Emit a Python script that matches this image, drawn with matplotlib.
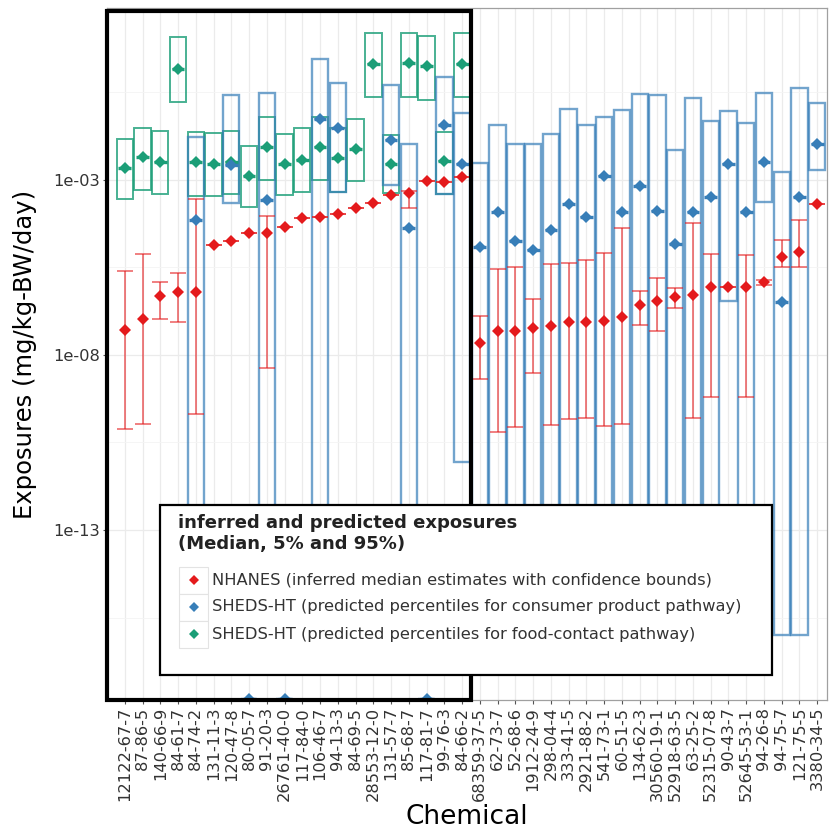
import numpy as np
import matplotlib
matplotlib.use("Agg")
import matplotlib.pyplot as plt
from matplotlib.patches import Rectangle
from matplotlib.lines import Line2D
import matplotlib.transforms as mtransforms

plt.rcParams['font.family'] = ['DejaVu Sans']

chemicals = ["12122-67-7", "87-86-5", "140-66-9", "84-61-7", "84-74-2", "131-11-3",
             "120-47-8", "80-05-7", "91-20-3", "26761-40-0", "117-84-0", "106-46-7",
             "94-13-3", "84-69-5", "28553-12-0", "131-57-7", "85-68-7", "117-81-7",
             "99-76-3", "84-66-2",
             "68359-37-5", "62-73-7", "52-68-6", "1912-24-9", "298-04-4", "333-41-5",
             "2921-88-2", "541-73-1", "60-51-5", "134-62-3", "30560-19-1", "52918-63-5",
             "63-25-2", "52315-07-8", "90-43-7", "52645-53-1", "94-26-8", "94-75-7",
             "121-75-5", "3380-34-5"]

nan = np.nan
# NHANES inferred median and confidence bounds
nh_med = [5.2e-8, 1.1e-7, 4.9e-7, 6.3e-7, 6.3e-7, 1.4e-5, 1.8e-5, 3.1e-5, 3.1e-5, 4.6e-5,
          8.2e-5, 8.8e-5, 1.1e-4, 1.6e-4, 2.2e-4, 3.7e-4, 4.3e-4, 9.3e-4, 8.8e-4, 1.2e-3,
          2.2e-8, 4.9e-8, 4.9e-8, 5.9e-8, 6.7e-8, 8.7e-8, 8.7e-8, 9.3e-8, 1.2e-7, 2.7e-7,
          3.5e-7, 4.5e-7, 5.2e-7, 8.8e-7, 8.8e-7, 8.8e-7, 1.2e-6, 6.3e-6, 8.8e-6, 2.1e-4]
nh_lo = [7.7e-11, 1.1e-10, 1.1e-7, 8.7e-8, 2.1e-10, 1.4e-5, 1.8e-5, 3.1e-5, 4.3e-9, 4.6e-5,
         8.2e-5, 8.8e-5, 1.1e-4, 1.6e-4, 2.2e-4, 3.7e-4, 1.6e-4, 9.3e-4, 8.8e-4, 1.2e-3,
         2.1e-9, 6.3e-11, 8.7e-11, 3.1e-9, 1.0e-10, 1.5e-10, 1.6e-10, 9.4e-11, 1.1e-10, 7.2e-8,
         4.9e-8, 2.2e-7, 1.6e-10, 6.3e-10, 8.8e-7, 6.3e-10, 1.0e-6, 3.3e-6, 3.3e-6, 2.1e-4]
nh_hi = [2.5e-6, 7.8e-6, 1.2e-6, 2.2e-6, 2.9e-4, 1.4e-5, 1.8e-5, 3.1e-5, 9.4e-5, 4.6e-5,
         8.2e-5, 8.8e-5, 1.1e-4, 1.6e-4, 2.2e-4, 3.7e-4, 4.9e-4, 9.3e-4, 8.8e-4, 1.2e-3,
         1.3e-7, 2.9e-6, 3.3e-6, 4.0e-7, 4.0e-6, 4.3e-6, 5.2e-6, 8.2e-6, 4.3e-5, 6.7e-7,
         1.6e-6, 8.2e-7, 5.9e-5, 7.8e-6, 8.8e-7, 7.2e-6, 1.4e-6, 1.9e-5, 7.2e-5, 2.1e-4]

# SHEDS-HT consumer product pathway (median, 5%, 95%)
cp_med = [nan, nan, nan, nan, 7.2e-5, nan, 2.7e-3, 1.5e-18, 2.7e-4, 1.5e-18,
          nan, 5.5e-2, 3.1e-2, nan, nan, 1.4e-2, 4.3e-5, 1.5e-18, 3.7e-2, 2.9e-3,
          1.2e-5, 1.2e-4, 1.8e-5, 1.0e-5, 3.7e-5, 2.1e-4, 8.8e-5, 1.3e-3, 1.2e-4, 6.7e-4,
          1.3e-4, 1.5e-5, 1.2e-4, 3.3e-4, 2.9e-3, 1.2e-4, 3.3e-3, 3.3e-7, 3.3e-4, 1.1e-2]
cp_p5 = [nan, nan, nan, nan, 1e-16, nan, 2.2e-4, 1.5e-18, 1e-16, 1.5e-18,
         nan, 1e-16, 4.5e-4, nan, nan, 7.2e-4, 1e-16, 1.5e-18, 4.0e-4, 8.7e-12,
         1e-16, 1e-16, 1e-16, 1e-16, 1e-16, 1e-16, 1e-16, 1e-16, 1e-16, 1e-16,
         1e-16, 1e-16, 1e-16, 1e-16, 3.5e-7, 1e-16, 2.4e-4, 1e-16, 1e-16, 1.9e-3]
cp_p95 = [nan, nan, nan, nan, 1.7e-2, nan, 0.27, 1.5e-18, 0.31, 1.5e-18,
          nan, 2.9, 0.59, nan, nan, 0.52, 1.1e-2, 1.5e-18, 0.87, 8.2e-2,
          3.1e-3, 3.7e-2, 1.1e-2, 1.1e-2, 2.1e-2, 0.11, 3.7e-2, 6.3e-2, 0.10, 0.29,
          0.27, 7.2e-3, 0.22, 4.9e-2, 9.3e-2, 4.3e-2, 0.31, 1.7e-3, 0.43, 0.16]

# SHEDS-HT food-contact pathway (median, 5%, 95%)
fc_med = [2.2e-3, 4.6e-3, 3.3e-3, 1.5, 3.3e-3, 2.9e-3, 3.3e-3, 1.3e-3, 8.8e-3, 2.9e-3,
          3.7e-3, 8.8e-3, 4.3e-3, 7.7e-3, 2.1, 2.9e-3, 2.2, 1.8, 3.5e-3, 2.1] + [nan] * 20
fc_p5 = [2.9e-4, 5.2e-4, 4.0e-4, 0.17, 3.5e-4, 3.5e-4, 4.0e-4, 1.7e-4, 1.0e-3, 3.7e-4,
         4.5e-4, 1.0e-3, 4.5e-4, 9.3e-4, 0.23, 4.3e-4, 0.23, 0.19, 4.0e-4, 0.23] + [nan] * 20
fc_p95 = [1.5e-2, 3.1e-2, 2.5e-2, 12.0, 2.4e-2, 2.2e-2, 2.5e-2, 9.4e-3, 6.3e-2, 2.1e-2,
          3.1e-2, 6.3e-2, 3.1e-2, 5.5e-2, 16.0, 1.9e-2, 16.0, 13.0, 2.4e-2, 16.0] + [nan] * 20

legend_title = "inferred and predicted exposures\n(Median, 5% and 95%)"
legend_labels = ["NHANES (inferred median estimates with confidence bounds)",
                 "SHEDS-HT (predicted percentiles for consumer product pathway)",
                 "SHEDS-HT (predicted percentiles for food-contact pathway)"]

RED = "#E41A1C"
BLUE = "#377EB8"
GREEN = "#1B9E77"

W, H = 835, 836
fig = plt.figure(figsize=(W / 100, H / 100), dpi=100)
ax = fig.add_axes([107 / W, 1 - 700 / H, (827 - 107) / W, (700 - 8) / H])

x = np.arange(len(chemicals))
nh_med = np.array(nh_med); nh_lo = np.array(nh_lo); nh_hi = np.array(nh_hi)
cp_med = np.array(cp_med); cp_p5 = np.array(cp_p5); cp_p95 = np.array(cp_p95)
fc_med = np.array(fc_med); fc_p5 = np.array(fc_p5); fc_p95 = np.array(fc_p95)

ax.set_yscale('log')
ax.set_ylim(10 ** -17.857, 10 ** 1.914)
ax.set_xlim(-1.0, 39.55)

# grid
for xi in x:
    ax.axvline(xi, color='#EBEBEB', lw=0.9, zorder=0)
for e in [-3, -8, -13]:
    ax.axhline(10.0 ** e, color='#EBEBEB', lw=0.9, zorder=0)
for e in [-0.5, -5.5, -10.5, -15.5]:
    ax.axhline(10.0 ** e, color='#F4F4F4', lw=0.6, zorder=0)

bw = 0.92
# food-contact boxes
m = ~np.isnan(fc_med)
ax.bar(x[m], fc_p95[m] - fc_p5[m], bottom=fc_p5[m], width=bw, fill=False,
       edgecolor=GREEN, linewidth=1.4, alpha=0.8, zorder=2)
# consumer boxes
m2 = ~np.isnan(cp_med)
ax.bar(x[m2], cp_p95[m2] - cp_p5[m2], bottom=cp_p5[m2], width=bw, fill=False,
       edgecolor=BLUE, linewidth=1.7, alpha=0.7, zorder=2)

# NHANES error bars
yerr = np.vstack([nh_med - nh_lo, nh_hi - nh_med])
ax.errorbar(x, nh_med, yerr=yerr, fmt='none', ecolor=RED, elinewidth=1.2,
            capsize=5.5, capthick=1.2, alpha=0.65, zorder=3)

# medians
ax.hlines(fc_med[m], x[m] - 0.36, x[m] + 0.36, color=GREEN, lw=2.4, zorder=4)
ax.plot(x[m], fc_med[m], 'D', color=GREEN, ms=6, mew=0, zorder=5)
ax.hlines(cp_med[m2], x[m2] - 0.36, x[m2] + 0.36, color=BLUE, lw=2.4, zorder=4)
ax.plot(x[m2], cp_med[m2], 'D', color=BLUE, ms=6, mew=0, zorder=5)
ax.plot(x, nh_med, 'D', color=RED, ms=6.5, mew=0, zorder=6)

# axes styling
ax.set_xticks(x)
ax.set_xticklabels(chemicals, rotation=90, fontsize=11.7, color='#333333')
ax.set_yticks([1e-3, 1e-8, 1e-13])
ax.set_yticklabels(["1e-03", "1e-08", "1e-13"], fontsize=11.7, color='#333333')
ax.minorticks_off()
ax.tick_params(axis='both', length=3, width=0.8, color='#555555', pad=2)
for s in ax.spines.values():
    s.set_color('#A0A0A0')
    s.set_linewidth(0.9)
ax.set_xlabel("Chemical", fontsize=19, labelpad=2)
ax.set_ylabel("Exposures (mg/kg-BW/day)", fontsize=17.5, labelpad=12)

# thick highlight rectangle around first group
trans = mtransforms.blended_transform_factory(ax.transData, ax.transAxes)
ax.add_patch(Rectangle((-1.0, 0), 20.5, 0.995, transform=trans, fill=False,
                       edgecolor='black', lw=3.0, clip_on=False, zorder=10))

# legend (drawn in figure pixel coordinates)
def fx(px):
    return px / W

def fy(py):
    return 1 - py / H

fig.patches.append(Rectangle((fx(160), fy(675)), fx(772) - fx(160), fy(505) - fy(675),
                             transform=fig.transFigure, facecolor='white',
                             edgecolor='black', lw=1.6, zorder=20))
fig.text(fx(178), fy(514), legend_title, fontsize=13, fontweight='bold',
         va='top', ha='left', color='#222222', linespacing=1.25, zorder=21)
colors = [RED, BLUE, GREEN]
rows = [580, 607, 634]
for c, lab, ry in zip(colors, legend_labels, rows):
    fig.patches.append(Rectangle((fx(179), fy(ry + 13.5)), fx(208) - fx(179), fy(ry - 13.5) - fy(ry + 13.5),
                                 transform=fig.transFigure, facecolor='white',
                                 edgecolor='#E3E3E3', lw=0.8, zorder=21))
    fig.lines.append(Line2D([fx(193.5)], [fy(ry)], marker='D', ms=5, color=c, mew=0,
                            transform=fig.transFigure, zorder=22))
    fig.text(fx(212), fy(ry), lab, fontsize=11.7, va='center', ha='left',
             color='#333333', zorder=22)

fig.savefig("out.png", dpi=100)
